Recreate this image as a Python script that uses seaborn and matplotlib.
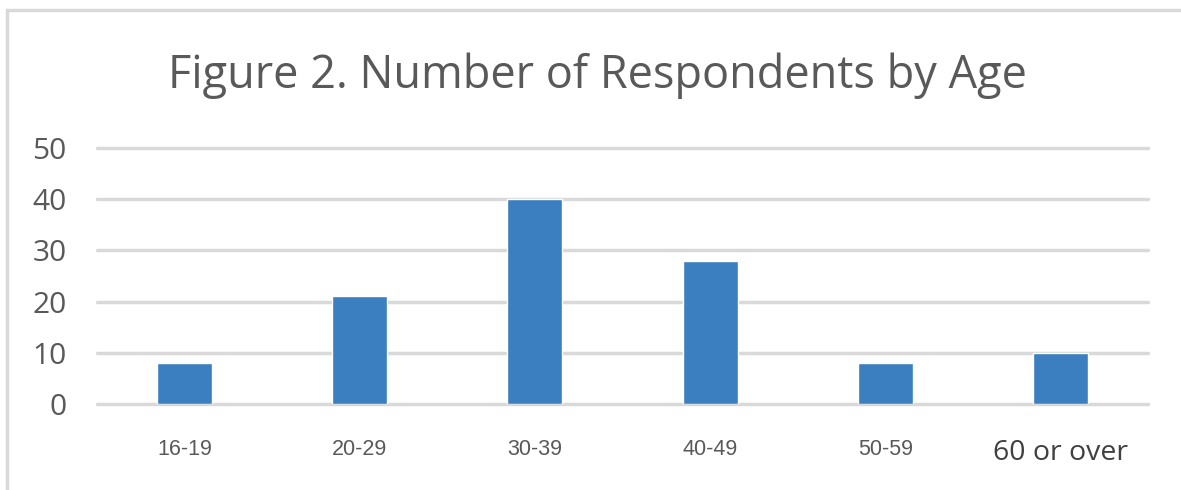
import seaborn as sns
import matplotlib.pyplot as plt
from matplotlib.patches import Rectangle

categories = ['16-19', '20-29', '30-39', '40-49', '50-59', '60 or over']
respondents = [8, 21, 40, 28, 8, 10]
yticks = [0, 10, 20, 30, 40, 50]

sns.set_style('white')
plt.rcParams['font.family'] = ['Open Sans', 'DejaVu Sans']

W, H = 1181, 490
fig = plt.figure(figsize=(W / 100, H / 100), dpi=100)

# outer chart border (right and bottom edges fall outside the image)
fig.patches.append(Rectangle((7 / W, -0.05), 1.1, (H - 10) / H + 0.05,
                             transform=fig.transFigure, fill=False,
                             edgecolor='#d9d9d9', lw=2.5))

ax = fig.add_axes([97 / W, (H - 404) / H, (1148 - 97) / W, 256 / H])
sns.barplot(x=categories, y=respondents, color='#3b7fc0', width=0.314,
            saturation=1, ax=ax)
ax.set_xlim(-0.5, 5.5)
ax.set_ylim(0, 50)
for s in ax.spines.values():
    s.set_visible(False)
for v in yticks:
    ax.axhline(v, color='#d9d9d9', lw=2.5, zorder=0, clip_on=False)

ax.set_yticks(yticks)
ax.set_yticklabels([str(v) for v in yticks], fontsize=21.5, color='#595959')
ax.tick_params(axis='y', length=0, pad=22)
ax.tick_params(axis='x', length=0, pad=25)
ax.set_xticks(range(len(categories)))
labels = ax.set_xticklabels(categories, fontsize=15.5, color='#595959',
                            family=['Liberation Sans'])
labels[-1].set_fontsize(20.5)
labels[-1].set_family(['Open Sans'])
labels[-1].set_color('#404040')
ax.set_xlabel('')
ax.set_ylabel('')

fig.text(597 / W, 1 - 76 / H, 'Figure 2. Number of Respondents by Age',
         ha='center', va='center', fontsize=32.5, color='#595959')

fig.savefig('out.png', dpi=100)
